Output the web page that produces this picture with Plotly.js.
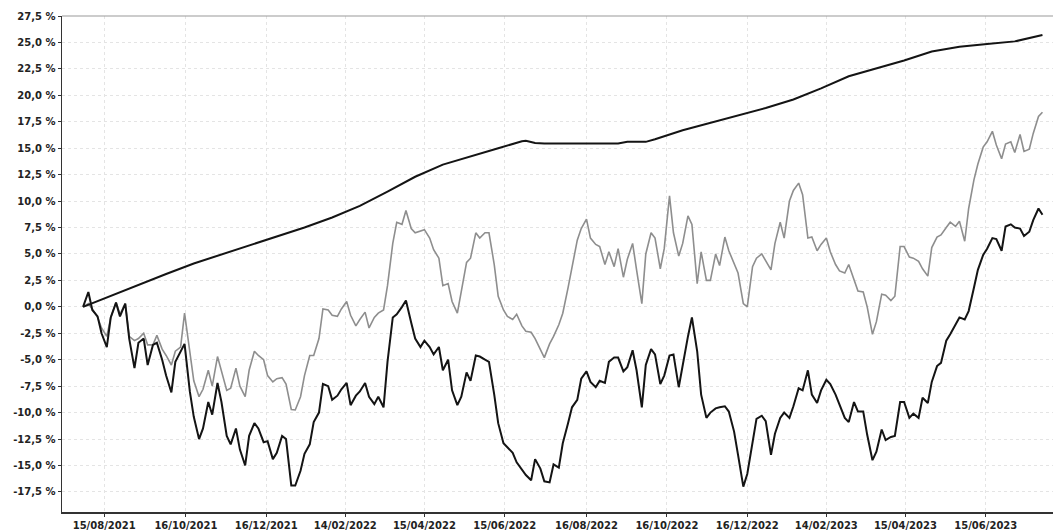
<!DOCTYPE html>
<html>
<head>
<meta charset="utf-8">
<script src="https://cdn.plot.ly/plotly-3.0.1.min.js"></script>
<style>html,body{margin:0;padding:0;background:#fff;}#chart{width:1055px;height:531px;}</style>
</head>
<body>
<div id="chart"></div>
<script>
// Shared twice-weekly dates for the two noisy series
const dates = [
"2021-07-30","2021-08-03","2021-08-06","2021-08-10","2021-08-13","2021-08-17","2021-08-20","2021-08-24","2021-08-27","2021-08-31",
"2021-09-03","2021-09-07","2021-09-10","2021-09-14","2021-09-17","2021-09-21","2021-09-24","2021-09-28","2021-10-01","2021-10-05",
"2021-10-08","2021-10-12","2021-10-15","2021-10-19","2021-10-22","2021-10-26","2021-10-29","2021-11-02","2021-11-05","2021-11-09",
"2021-11-12","2021-11-16","2021-11-19","2021-11-23","2021-11-26","2021-11-30","2021-12-03","2021-12-07","2021-12-10","2021-12-14",
"2021-12-17","2021-12-21","2021-12-24","2021-12-28","2021-12-31",
"2022-01-04","2022-01-07","2022-01-11","2022-01-14","2022-01-18","2022-01-21","2022-01-25","2022-01-28","2022-02-01","2022-02-04",
"2022-02-08","2022-02-11","2022-02-15","2022-02-18","2022-02-22","2022-02-25","2022-03-01","2022-03-04","2022-03-08","2022-03-11",
"2022-03-15","2022-03-18","2022-03-22","2022-03-25","2022-03-29","2022-04-01","2022-04-05","2022-04-08","2022-04-12","2022-04-15",
"2022-04-19","2022-04-22","2022-04-26","2022-04-29","2022-05-03","2022-05-06","2022-05-10","2022-05-13","2022-05-17","2022-05-20",
"2022-05-24","2022-05-27","2022-05-31","2022-06-03","2022-06-07","2022-06-10","2022-06-14","2022-06-17","2022-06-21","2022-06-24",
"2022-06-28","2022-07-01","2022-07-05","2022-07-08","2022-07-12","2022-07-15","2022-07-19","2022-07-22","2022-07-26","2022-07-29",
"2022-08-02","2022-08-05","2022-08-09","2022-08-12","2022-08-16","2022-08-19","2022-08-23","2022-08-26","2022-08-30","2022-09-02",
"2022-09-06","2022-09-09","2022-09-13","2022-09-16","2022-09-20","2022-09-23","2022-09-27","2022-09-30","2022-10-04","2022-10-07",
"2022-10-11","2022-10-14","2022-10-18","2022-10-21","2022-10-25","2022-10-28","2022-11-01","2022-11-04","2022-11-08","2022-11-11",
"2022-11-15","2022-11-18","2022-11-22","2022-11-25","2022-11-29","2022-12-02","2022-12-06","2022-12-09","2022-12-13","2022-12-16",
"2022-12-20","2022-12-23","2022-12-27","2022-12-30",
"2023-01-03","2023-01-06","2023-01-10","2023-01-13","2023-01-17","2023-01-20","2023-01-24","2023-01-27","2023-01-31","2023-02-03",
"2023-02-07","2023-02-10","2023-02-14","2023-02-17","2023-02-21","2023-02-24","2023-02-28","2023-03-03","2023-03-07","2023-03-10",
"2023-03-14","2023-03-17","2023-03-21","2023-03-24","2023-03-28","2023-03-31","2023-04-04","2023-04-07","2023-04-11","2023-04-14",
"2023-04-18","2023-04-21","2023-04-25","2023-04-28","2023-05-02","2023-05-05","2023-05-09","2023-05-12","2023-05-16","2023-05-19",
"2023-05-23","2023-05-26","2023-05-30","2023-06-02","2023-06-06","2023-06-09","2023-06-13","2023-06-16","2023-06-20","2023-06-23",
"2023-06-27","2023-06-30","2023-07-04","2023-07-07","2023-07-11","2023-07-14","2023-07-18","2023-07-21","2023-07-25","2023-07-28"
];

// Gray series (%)
const grayVals = [
0.0,0.3,-0.2,-1.0,-2.0,-2.8,-1.0,0.4,-0.7,0.3,
-2.8,-3.2,-3.0,-2.5,-3.6,-3.6,-2.7,-4.0,-4.6,-5.5,
-4.2,-3.8,-0.6,-4.5,-7.0,-8.5,-7.8,-6.0,-7.5,-4.7,
-6.0,-7.9,-7.7,-5.8,-7.5,-8.5,-6.0,-4.2,-4.6,-5.0,
-6.5,-7.1,-6.8,-6.7,-7.3,
-9.7,-9.75,-8.5,-6.5,-4.6,-4.6,-3.0,-0.2,-0.3,-0.8,
-0.9,-0.2,0.5,-0.8,-1.8,-1.2,-0.5,-2.0,-1.0,-0.6,
-0.3,2.0,6.0,8.0,7.8,9.1,7.4,7.0,7.2,7.3,
6.5,5.4,4.6,2.0,2.2,0.5,-0.6,1.5,4.2,4.6,
7.0,6.5,7.0,7.0,4.0,1.0,-0.3,-0.9,-1.2,-0.7,
-1.8,-2.3,-2.4,-3.0,-4.1,-4.8,-3.5,-2.8,-1.7,-0.6,
1.8,3.8,6.3,7.4,8.3,6.5,5.9,5.7,4.0,5.2,
3.8,5.5,2.8,4.5,6.0,3.5,0.3,5.0,7.0,6.5,
3.6,5.5,10.5,7.0,4.8,6.0,8.6,7.8,2.2,5.2,
2.5,2.5,5.0,3.9,6.6,5.3,4.0,3.2,0.3,0.0,
3.8,4.6,5.0,4.4,
3.5,6.0,8.0,6.5,10.0,11.0,11.7,10.6,6.5,6.6,
5.3,5.9,6.5,5.2,4.0,3.4,3.2,4.0,2.6,1.5,
1.4,0.0,-2.6,-1.4,1.2,1.1,0.6,1.0,5.7,5.7,
4.7,4.6,4.3,3.6,2.9,5.6,6.6,6.8,7.5,8.0,
7.6,8.1,6.2,9.3,12.0,13.5,15.1,15.6,16.6,15.3,
14.0,15.4,15.6,14.6,16.3,14.7,14.9,16.4,18.0,18.4
];

// Black series (%)
const blackVals = [
0.0,1.4,-0.3,-0.9,-2.5,-3.8,-1.0,0.4,-0.9,0.3,
-3.0,-5.8,-3.4,-3.0,-5.5,-3.6,-3.4,-5.0,-6.5,-8.1,
-5.2,-4.2,-3.5,-8.0,-10.4,-12.5,-11.5,-9.0,-10.2,-7.2,
-9.0,-12.2,-13.0,-11.5,-13.5,-15.0,-12.2,-11.0,-11.5,-12.8,
-12.7,-14.4,-13.8,-12.2,-12.5,
-16.9,-16.9,-15.5,-13.9,-13.0,-10.9,-10.0,-7.3,-7.5,-8.8,
-8.4,-7.8,-7.2,-9.3,-8.4,-8.0,-7.2,-8.5,-9.2,-8.5,
-9.5,-5.2,-1.0,-0.7,0.0,0.6,-1.5,-3.0,-3.8,-3.2,
-3.8,-4.5,-3.8,-6.0,-5.0,-7.9,-9.3,-8.5,-6.2,-7.0,
-4.6,-4.7,-5.0,-5.2,-8.3,-11.0,-12.9,-13.3,-13.8,-14.7,
-15.4,-15.9,-16.4,-14.4,-15.3,-16.5,-16.6,-14.9,-15.2,-12.9,
-11.0,-9.5,-8.8,-6.8,-6.1,-7.1,-7.6,-7.0,-7.2,-5.2,
-4.8,-4.8,-6.1,-5.7,-4.1,-6.0,-9.5,-5.5,-4.0,-4.5,
-7.3,-6.5,-4.6,-4.5,-7.6,-5.5,-2.8,-1.0,-4.2,-8.3,
-10.5,-10.0,-9.6,-9.5,-9.4,-9.9,-11.8,-14.0,-17.0,-15.8,
-12.8,-10.6,-10.3,-10.8,
-14.0,-12.0,-10.5,-10.0,-10.5,-9.4,-7.7,-7.9,-6.0,-8.3,
-9.1,-7.9,-6.9,-7.3,-8.3,-9.3,-10.5,-10.9,-9.0,-9.9,
-9.9,-12.1,-14.5,-13.7,-11.6,-12.6,-12.3,-12.2,-9.0,-9.0,
-10.5,-10.1,-10.5,-8.6,-9.1,-7.1,-5.6,-5.3,-3.2,-2.6,
-1.6,-1.0,-1.2,-0.4,1.8,3.5,4.9,5.5,6.5,6.4,
5.3,7.6,7.8,7.5,7.4,6.7,7.1,8.2,9.3,8.7
];

// Smooth upward series (%)
const smoothDates = [
"2021-07-30","2021-08-20","2021-09-10","2021-10-01","2021-10-22","2021-11-12","2021-12-03","2021-12-24",
"2022-01-14","2022-02-04","2022-02-25","2022-03-18","2022-04-08","2022-04-29","2022-05-20","2022-06-10",
"2022-06-28","2022-07-01","2022-07-08","2022-07-15","2022-09-09","2022-09-16","2022-09-30","2022-10-07",
"2022-10-28","2022-11-18","2022-12-09","2022-12-30","2023-01-20","2023-02-10","2023-03-03","2023-03-24",
"2023-04-14","2023-05-05","2023-05-26","2023-06-16","2023-07-07","2023-07-28"
];
const smoothVals = [
0.0,1.05,2.1,3.1,4.1,4.95,5.8,6.6,
7.5,8.45,9.55,10.9,12.3,13.45,14.25,15.0,
15.65,15.7,15.5,15.45,15.45,15.6,15.6,15.85,
16.7,17.4,18.05,18.8,19.6,20.65,21.8,22.55,
23.3,24.15,24.6,24.85,25.1,25.7
];

// Axis ticks
const xTickVals = ["2021-08-15","2021-10-16","2021-12-16","2022-02-14","2022-04-15","2022-06-15",
  "2022-08-16","2022-10-16","2022-12-16","2023-02-14","2023-04-15","2023-06-15"];
const xTickText = ["15/08/2021","16/10/2021","16/12/2021","14/02/2022","15/04/2022","15/06/2022",
  "16/08/2022","16/10/2022","16/12/2022","14/02/2023","15/04/2023","15/06/2023"];
const yTickVals = [-17.5,-15,-12.5,-10,-7.5,-5,-2.5,0,2.5,5,7.5,10,12.5,15,17.5,20,22.5,25,27.5];
const yTickText = ["-17,5 %","-15,0 %","-12,5 %","-10,0 %","-7,5 %","-5,0 %","-2,5 %","0,0 %","2,5 %","5,0 %",
  "7,5 %","10,0 %","12,5 %","15,0 %","17,5 %","20,0 %","22,5 %","25,0 %","27,5 %"];

const traces = [
  {x: dates, y: grayVals, type: 'scatter', mode: 'lines', line: {color: '#8e8e8e', width: 1.6}, hoverinfo: 'skip'},
  {x: dates, y: blackVals, type: 'scatter', mode: 'lines', line: {color: '#141414', width: 2}, hoverinfo: 'skip'},
  {x: smoothDates, y: smoothVals, type: 'scatter', mode: 'lines', line: {color: '#141414', width: 2}, hoverinfo: 'skip'}
];

const tickFont = {family: 'DejaVu Sans, Verdana, sans-serif', size: 10, color: '#222', weight: 'bold'};

const layout = {
  width: 1055, height: 531,
  margin: {l: 62, r: 2, t: 16, b: 19, pad: 0},
  paper_bgcolor: '#ffffff', plot_bgcolor: '#ffffff',
  showlegend: false,
  xaxis: {
    type: 'date', range: ['2021-07-14', '2023-08-05'],
    tickmode: 'array', tickvals: xTickVals, ticktext: xTickText,
    tickfont: tickFont, ticks: 'outside', ticklen: 3, tickcolor: '#333', tickwidth: 1,
    showline: true, linecolor: '#333', linewidth: 1.5,
    showgrid: true, gridcolor: '#e4e4e4', gridwidth: 1, griddash: 'dot',
    zeroline: false, fixedrange: true
  },
  yaxis: {
    range: [-19.4, 27.5],
    tickmode: 'array', tickvals: yTickVals, ticktext: yTickText,
    tickfont: tickFont, ticks: 'outside', ticklen: 3, tickcolor: '#333', tickwidth: 1,
    showline: true, linecolor: '#333', linewidth: 1.5,
    showgrid: true, gridcolor: '#e4e4e4', gridwidth: 1, griddash: 'dot',
    zeroline: false, fixedrange: true
  },
  shapes: [
    {type: 'line', xref: 'paper', yref: 'paper', x0: 0, x1: 1, y0: 1, y1: 1, line: {color: '#9a9a9a', width: 1.2}}
  ]
};

Plotly.newPlot('chart', traces, layout, {displayModeBar: false, staticPlot: true});
</script>
</body>
</html>
